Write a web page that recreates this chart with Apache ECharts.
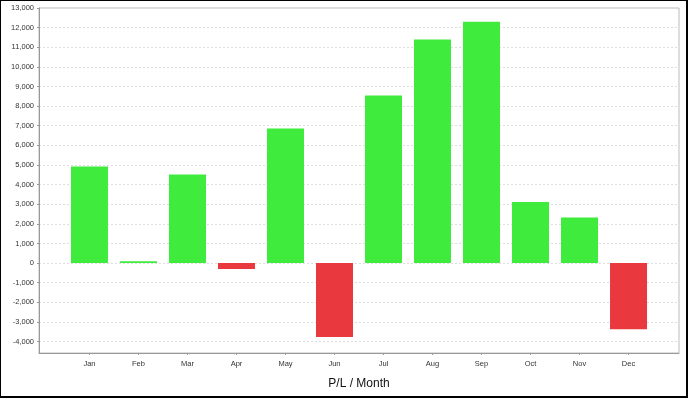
<!DOCTYPE html>
<html>
<head>
<meta charset="utf-8">
<script src="https://cdn.jsdelivr.net/npm/echarts@6/dist/echarts.min.js"></script>
<style>
html,body{margin:0;padding:0;background:#fff;}
#wrap{position:absolute;left:0;top:0;width:688px;height:398px;box-sizing:border-box;border:1px solid #000;border-right-width:2px;border-bottom-width:2px;background:#fff;}
#chart{position:absolute;left:0;top:0;width:685px;height:395px;}
</style>
</head>
<body>
<div id="wrap"><div id="chart"></div></div>
<script>
const months = ['Jan','Feb','Mar','Apr','May','Jun','Jul','Aug','Sep','Oct','Nov','Dec'];
const pl = [4920, 90, 4510, -300, 6860, -3760, 8540, 11400, 12300, 3120, 2320, -3370];
const yTicks = [-4000,-3000,-2000,-1000,0,1000,2000,3000,4000,5000,6000,7000,8000,9000,10000,11000,12000,13000];
const xTicks = months.map((m, i) => i);

const chart = echarts.init(document.getElementById('chart'));
const font = 'Liberation Sans, Arial, sans-serif';
chart.setOption({
  animation: false,
  grid: { left: 38, top: 7, right: 7, bottom: 43, show: true, borderColor: '#bbbbbb', borderWidth: 1, backgroundColor: '#fff' },
  xAxis: {
    type: 'value', min: -1.03, max: 12.03,
    name: 'P/L / Month', nameLocation: 'middle', nameGap: 25,
    nameTextStyle: { fontSize: 12, color: '#111', fontFamily: font },
    axisLine: { show: true, onZero: false, lineStyle: { color: '#999', width: 1 } },
    axisTick: { show: true, length: 2, customValues: xTicks, lineStyle: { color: '#999' } },
    axisLabel: { customValues: xTicks, margin: 7, fontSize: 7.5, color: '#333', fontFamily: font,
      formatter: v => months[Math.round(v)] },
    splitLine: { show: false }
  },
  yAxis: {
    type: 'value', min: -4580, max: 13000,
    axisLine: { show: true, onZero: false, lineStyle: { color: '#999', width: 1 } },
    axisTick: { show: true, length: 2, customValues: yTicks, lineStyle: { color: '#999' } },
    axisLabel: { customValues: yTicks, margin: 5, fontSize: 7.5, color: '#333', fontFamily: font,
      formatter: v => v.toLocaleString('en-US') },
    splitLine: { show: true, lineStyle: { color: '#dddddd', type: [2, 2], width: 1 } }
  },
  series: [{
    type: 'bar',
    barWidth: 37,
    data: pl.map((v, i) => [i, v]),
    itemStyle: {
      color: p => p.value[1] >= 0 ? '#3feb3d' : '#e9393f'
    }
  }]
});
</script>
</body>
</html>
